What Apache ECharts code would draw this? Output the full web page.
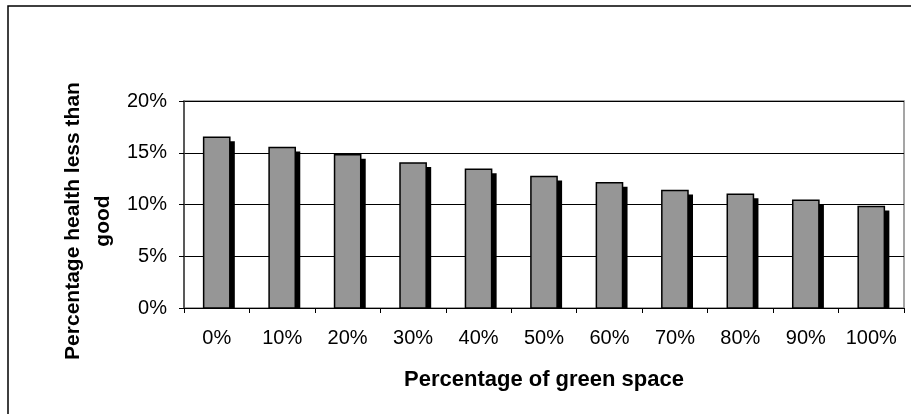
<!DOCTYPE html>
<html>
<head>
<meta charset="utf-8">
<script src="https://cdn.jsdelivr.net/npm/echarts@6/dist/echarts.min.js"></script>
<style>
html,body{margin:0;padding:0;background:#fff;}
#chart{width:911px;height:414px;}
</style>
</head>
<body>
<div id="chart"></div>
<script>
var categories = ['0%','10%','20%','30%','40%','50%','60%','70%','80%','90%','100%'];
var values = [16.5, 15.5, 14.8, 14.0, 13.4, 12.7, 12.1, 11.35, 11.0, 10.4, 9.8];
var yTicks = [0, 5, 10, 15, 20];
var xTitle = 'Percentage of green space';
var yTitle = 'Percentage health less than\ngood';

var FONT = "'Liberation Sans', Arial, sans-serif";
var chart = echarts.init(document.getElementById('chart'), null, {renderer:'canvas'});
chart.setOption({
  animation: false,
  backgroundColor: '#fff',
  grid: {left: 184, right: 7, top: 101, bottom: 106, show: true, borderColor: '#888', borderWidth: 1.5, backgroundColor: 'transparent'},
  xAxis: {
    type: 'category',
    data: categories,
    boundaryGap: true,
    axisLine: {lineStyle: {color: '#000', width: 1}},
    axisTick: {show: true, length: 5, lineStyle: {color: '#000'}},
    axisLabel: {color: '#000', fontSize: 20, fontFamily: FONT, margin: 20, interval: 0}
  },
  yAxis: {
    type: 'value',
    min: yTicks[0],
    max: yTicks[yTicks.length-1],
    interval: yTicks[1]-yTicks[0],
    axisLine: {show: true, lineStyle: {color: '#404040', width: 1.5}},
    axisTick: {show: true, length: 5, lineStyle: {color: '#000'}},
    axisLabel: {color: '#000', fontSize: 20, fontFamily: FONT, margin: 17, formatter: '{value}%'},
    splitLine: {show: true, lineStyle: {color: '#000', width: 1}}
  },
  graphic: [
    {type:'rect', silent:true, z:-1, shape:{x:8, y:6, width:1000, height:1000}, style:{fill:'none', stroke:'#000', lineWidth:1.5}},
    {type:'text', x:544, y:380, style:{text:xTitle, font:'bold 22px ' + FONT, fill:'#000', align:'center', verticalAlign:'middle'}},
    {type:'text', x:88, y:221, rotation: Math.PI/2, style:{text:yTitle, font:'bold 21px ' + FONT, fill:'#000', align:'center', verticalAlign:'middle', lineHeight:30}}
  ],
  series: [{
    type: 'custom',
    data: values.map(function(v, i){ return [i, v]; }),
    encode: {x: 0, y: 1},
    renderItem: function(params, api){
      var v = api.value(1);
      var top = api.coord([api.value(0), v]);
      var base = api.coord([api.value(0), 0]);
      var bw = api.size([1, 0])[0] * 0.4;
      var x = top[0] - bw / 2;
      return {type:'group', children:[
        {type:'rect', shape:{x:x+5, y:top[1]+4, width:bw, height:base[1]-top[1]-4}, style:{fill:'#000'}},
        {type:'rect', shape:{x:x, y:top[1], width:bw, height:base[1]-top[1]}, style:{fill:'#969696', stroke:'#000', lineWidth:1.5}}
      ]};
    }
  }]
});
</script>
</body>
</html>
